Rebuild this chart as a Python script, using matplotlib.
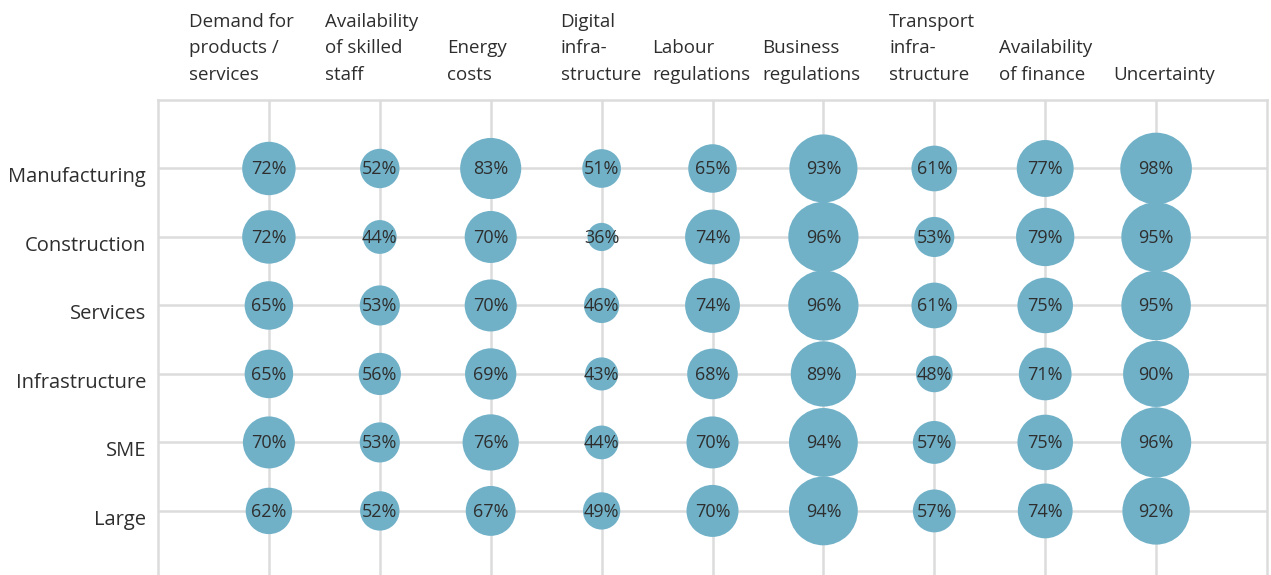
import numpy as np
import matplotlib.pyplot as plt

plt.rcParams['font.family'] = ['Open Sans', 'DejaVu Sans']

# Obstacles (columns) and firm groups (rows), share of firms in %
obstacles = ["Demand for\nproducts /\nservices", "Availability\nof skilled\nstaff",
             "Energy\ncosts", "Digital\ninfra-\nstructure", "Labour\nregulations",
             "Business\nregulations", "Transport\ninfra-\nstructure",
             "Availability\nof finance", "Uncertainty"]
groups = ["Manufacturing", "Construction", "Services", "Infrastructure", "SME", "Large"]

manufacturing = [72, 52, 83, 51, 65, 93, 61, 77, 98]
construction = [72, 44, 70, 36, 74, 96, 53, 79, 95]
services = [65, 53, 70, 46, 74, 96, 61, 75, 95]
infrastructure = [65, 56, 69, 43, 68, 89, 48, 71, 90]
sme = [70, 53, 76, 44, 70, 94, 57, 75, 96]
large = [62, 52, 67, 49, 70, 94, 57, 74, 92]

values = np.array([manufacturing, construction, services, infrastructure, sme, large])

# header text left edge, offset from column centre (pixels)
header_dx = [-80, -55, -44, -41, -60, -61, -45, -46, -43]

DPI = 100
fig = plt.figure(figsize=(12.71, 5.75), dpi=DPI)
ax = fig.add_axes([158 / 1271, 0.0, (1267 - 158) / 1271, 1 - 100 / 575])

grid_c = "#dcdcdc"
bubble_c = "#70b1c8"
text_c = "#2e2e2e"

n_rows, n_cols = values.shape
ax.set_xlim(-1, n_cols)
ax.set_ylim(n_rows - 1 + 64 / 68.4, -1)

for j in range(n_cols):
    ax.axvline(j, color=grid_c, lw=1.8, zorder=0)
for i in range(n_rows):
    ax.axhline(i, color=grid_c, lw=1.8, zorder=0)

xx, yy = np.meshgrid(np.arange(n_cols), np.arange(n_rows))
diam_px = 0.7 * values + 3
sizes = (diam_px * 72 / DPI) ** 2
ax.scatter(xx.ravel(), yy.ravel(), s=sizes.ravel(), color=bubble_c,
           edgecolors="none", zorder=2)

for i in range(n_rows):
    for j in range(n_cols):
        ax.annotate(f"{values[i, j]}%", xy=(j, i), xytext=(0, -1),
                    textcoords="offset pixels", ha="center", va="center",
                    fontsize=13, color=text_c, zorder=3)

for i, g in enumerate(groups):
    ax.annotate(g, xy=(0, i), xycoords=("axes fraction", "data"),
                xytext=(-12, -9), textcoords="offset pixels",
                ha="right", va="center", fontsize=14.5, color=text_c)

for j, lab in enumerate(obstacles):
    ax.annotate(lab, xy=(j, 1), xycoords=("data", "axes fraction"),
                xytext=(header_dx[j], 16), textcoords="offset pixels",
                ha="left", va="bottom", fontsize=13.5, color=text_c,
                linespacing=1.62, annotation_clip=False)

ax.set_xticks([])
ax.set_yticks([])
for side in ["left", "top", "right"]:
    ax.spines[side].set_color(grid_c)
    ax.spines[side].set_linewidth(1.8)
ax.spines["bottom"].set_visible(False)

fig.savefig("out.png", dpi=DPI)
